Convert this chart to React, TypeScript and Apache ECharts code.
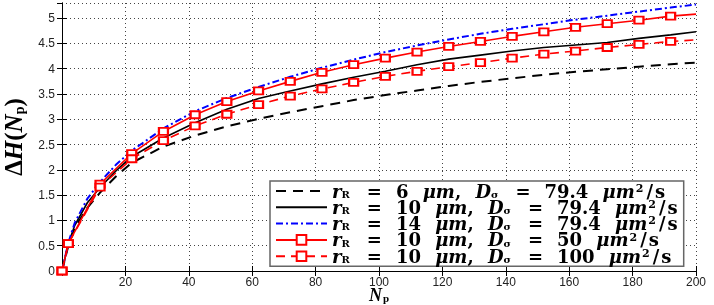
import React, { useEffect, useRef } from "react";
import * as echarts from "echarts";

// N_p values where curves are sampled
const nSmooth = [0, 2, 4, 8, 12, 17, 22, 32, 42, 52, 62, 72, 82, 92, 102, 112, 122, 132, 142, 152, 162, 172, 182, 192, 200];
// N_p values of the marked series
const nMarked = [0, 2, 12, 22, 32, 42, 52, 62, 72, 82, 92, 102, 112, 122, 132, 142, 152, 162, 172, 182, 192, 200];

const r6D79 = [0, 0.5, 0.85, 1.25, 1.55, 1.87, 2.14, 2.46, 2.68, 2.86, 3.01, 3.14, 3.26, 3.38, 3.48, 3.57, 3.66, 3.74, 3.81, 3.88, 3.94, 3.99, 4.04, 4.09, 4.12];
const r10D79 = [0, 0.54, 0.9, 1.35, 1.65, 1.98, 2.26, 2.63, 2.93, 3.2, 3.41, 3.56, 3.7, 3.83, 3.95, 4.08, 4.19, 4.27, 4.35, 4.42, 4.47, 4.52, 4.6, 4.67, 4.73];
const r14D79 = [0, 0.56, 0.95, 1.43, 1.76, 2.1, 2.38, 2.82, 3.16, 3.42, 3.64, 3.84, 4.02, 4.18, 4.33, 4.46, 4.58, 4.69, 4.79, 4.88, 4.97, 5.05, 5.13, 5.21, 5.27];
const r10D50 = [0, 0.54, 1.72, 2.32, 2.76, 3.09, 3.35, 3.56, 3.75, 3.93, 4.08, 4.21, 4.33, 4.44, 4.54, 4.64, 4.73, 4.82, 4.89, 4.96, 5.04, 5.08];
const r10D100 = [0, 0.54, 1.66, 2.22, 2.58, 2.87, 3.1, 3.29, 3.46, 3.6, 3.73, 3.85, 3.95, 4.04, 4.12, 4.21, 4.29, 4.35, 4.42, 4.48, 4.54, 4.57];

const seriesNames = ["r6D79", "r10D79", "r14D79", "r10D50", "r10D100"];
const radii = ["6", "10", "14", "10", "10"];
const diffs = ["79.4", "79.4", "79.4", "50", "100"];
const hasMarker = [false, false, false, true, true];

const xTickInterval = 20;
const yTickInterval = 0.5;

export default function App() {
  const ref = useRef<HTMLDivElement>(null);
  useEffect(() => {
    if (!ref.current) return;
    const chart = echarts.init(ref.current, null, { renderer: "svg" });
    const pair = (xs: number[], ys: number[]) => xs.map((x, i) => [x, ys[i]]);
    const marked = (ys: number[]) =>
      nMarked.map((x, i) =>
        i === nMarked.length - 1 ? { value: [x, ys[i]], symbol: "none" } : { value: [x, ys[i]] }
      );
    const legendText: Record<string, string> = {};
    seriesNames.forEach((n, i) => {
      legendText[n] =
        `{i|r}{sub|R}{eq|=}{t|${radii[i]}}{sp| }{i|μm}{t|,}{sp| }{i|D}{sub|σ}{eq|=}{t|${diffs[i]}}{sp| }{i|μm}{sup|2}{sl|/}{t|s}`;
    });
    const gridLine = { show: true, lineStyle: { color: "#444", type: [1, 3] as any, width: 1 } };
    const axisLine = { show: true, lineStyle: { color: "#000", width: 1 } };
    const ticks = { show: true, inside: true, length: 5, lineStyle: { color: "#000" } };
    const labelFont = { fontFamily: "Liberation Sans", fontSize: 12, color: "#222" };
    const base = {
      type: "line",
      showSymbol: true,
      animation: false,
      z: 2,
    };
    const lf = "DejaVu Serif";
    const fs = 18;
    const lh = 16.5;
    chart.setOption({
      animation: false,
      grid: { left: 62, right: 18, top: 3, bottom: 34, outerBoundsMode: "none", containLabel: false },
      xAxis: [
        {
          type: "value",
          min: 0,
          max: 200,
          interval: xTickInterval,
          position: "bottom",
          axisLine,
          axisTick: ticks,
          splitLine: gridLine,
          axisLabel: { ...labelFont, margin: 5, showMinLabel: false },
          name: "{n|N}{s|p}",
          nameLocation: "middle",
          nameGap: 16,
          nameMoveOverlap: false,
          nameTextStyle: {
            verticalAlign: "top",
            rich: {
              n: { fontFamily: "Liberation Serif", fontStyle: "italic", fontWeight: "bold", fontSize: 18, lineHeight: 16, color: "#000" },
              s: { fontFamily: "Liberation Serif", fontWeight: "bold", fontSize: 11, lineHeight: 12, verticalAlign: "bottom", color: "#000", padding: [0, 0, 0, 1] },
            },
          },
        },
        {
          type: "value",
          min: 0,
          max: 200,
          interval: xTickInterval,
          position: "top",
          axisLine,
          axisTick: ticks,
          splitLine: { show: false },
          axisLabel: { show: false },
        },
      ],
      yAxis: [
        {
          type: "value",
          min: 0,
          max: 5.3,
          interval: yTickInterval,
          position: "left",
          axisLine,
          axisTick: ticks,
          splitLine: gridLine,
          axisLabel: { ...labelFont, margin: 7, showMaxLabel: false },
          name: "{d|Δ}{h|H}{p|(}{h|N}{s|p}{p|)}",
          nameLocation: "middle",
          nameRotate: 90,
          nameGap: 36,
          nameMoveOverlap: false,
          nameTextStyle: {
            rich: {
              d: { fontFamily: "Liberation Serif", fontWeight: "bold", fontSize: 25, lineHeight: 26, color: "#000" },
              h: { fontFamily: "Liberation Serif", fontStyle: "italic", fontWeight: "bold", fontSize: 25, lineHeight: 26, color: "#000" },
              p: { fontFamily: "Liberation Serif", fontWeight: "bold", fontSize: 25, lineHeight: 26, color: "#000" },
              s: { fontFamily: "Liberation Serif", fontWeight: "bold", fontSize: 14, lineHeight: 19, verticalAlign: "bottom", color: "#000" },
            },
          },
        },
        {
          type: "value",
          min: 0,
          max: 5.3,
          interval: yTickInterval,
          position: "right",
          axisLine,
          axisTick: ticks,
          splitLine: { show: false },
          axisLabel: { show: false },
        },
      ],
      legend: {
        orient: "vertical",
        left: 270,
        top: 181,
        backgroundColor: "#fff",
        borderColor: "#666",
        borderWidth: 1.5,
        borderRadius: 0,
        padding: [1, 6, 1, 5],
        itemWidth: 51,
        itemHeight: 12,
        itemGap: -1.7,
        data: seriesNames.map((n, i) =>
          hasMarker[i] ? { name: n } : { name: n, itemStyle: { opacity: 0 } }
        ),
        formatter: (name: string) => legendText[name],
        textStyle: {
          color: "#000",
          rich: {
            t: { fontFamily: lf, fontWeight: "bold", fontSize: fs, lineHeight: lh, color: "#000" },
            sp: { fontFamily: lf, fontWeight: "bold", fontSize: fs, lineHeight: lh, color: "#000", padding: [0, 4, 0, 4] },
            sl: { fontFamily: lf, fontWeight: "bold", fontSize: fs, lineHeight: lh, color: "#000", padding: [0, 2, 0, 2] },
            eq: { fontFamily: lf, fontWeight: "bold", fontSize: fs, lineHeight: lh, color: "#000", padding: [0, 14, 0, 13] },
            i: { fontFamily: lf, fontStyle: "italic", fontWeight: "bold", fontSize: fs, lineHeight: lh, color: "#000" },
            sub: { fontFamily: lf, fontWeight: "bold", fontSize: 10, lineHeight: 10, verticalAlign: "bottom", color: "#000", padding: [0, 4, 0, 0] },
            sup: { fontFamily: lf, fontWeight: "bold", fontSize: 11, lineHeight: 10, verticalAlign: "top", color: "#000", padding: [0, 1, 0, 1] },
          },
        },
      },
      series: [
        {
          ...base,
          name: seriesNames[0],
          data: pair(nSmooth, r6D79),
          symbol: "none",
          lineStyle: { color: "#000", width: 2, type: [10, 7] },
          itemStyle: { color: "#000" },
        },
        {
          ...base,
          name: seriesNames[1],
          data: pair(nSmooth, r10D79),
          symbol: "none",
          lineStyle: { color: "#000", width: 1.6, type: "solid" },
          itemStyle: { color: "#000" },
        },
        {
          ...base,
          name: seriesNames[2],
          data: pair(nSmooth, r14D79),
          symbol: "none",
          lineStyle: { color: "#0000ff", width: 2, type: [7, 3, 2, 3] },
          itemStyle: { color: "#0000ff" },
        },
        {
          ...base,
          name: seriesNames[3],
          data: marked(r10D50),
          symbol: "emptyRect",
          symbolSize: [9, 7],
          lineStyle: { color: "#ff0000", width: 1.6, type: "solid" },
          itemStyle: { color: "#ff0000", borderColor: "#ff0000", borderWidth: 2 },
          z: 3,
        },
        {
          ...base,
          name: seriesNames[4],
          data: marked(r10D100),
          symbol: "emptyRect",
          symbolSize: [9, 7],
          lineStyle: { color: "#ff0000", width: 1.6, type: [9, 6] },
          itemStyle: { color: "#ff0000", borderColor: "#ff0000", borderWidth: 2 },
          z: 3,
        },
      ],
    });
    return () => chart.dispose();
  }, []);
  return (
    <div
      ref={ref}
      style={{ position: "fixed", left: 0, top: 0, width: 714, height: 305 }}
    />
  );
}
